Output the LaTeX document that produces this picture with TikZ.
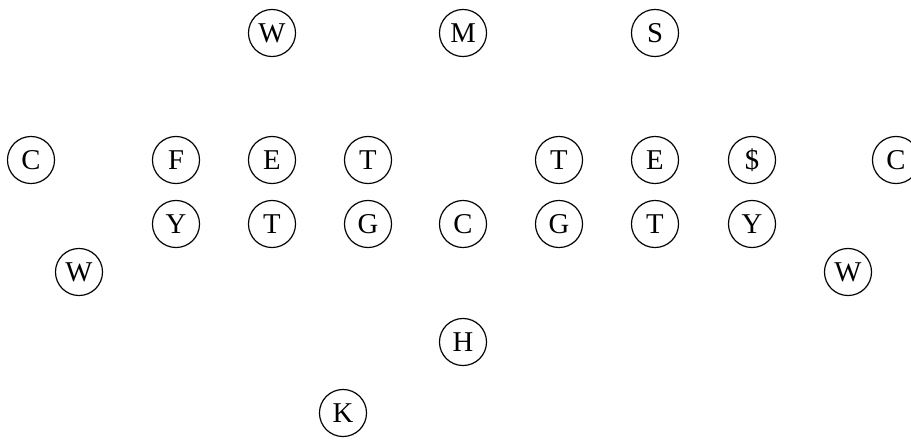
\documentclass[tikz,border=0pt]{standalone}
\usepackage{fontspec}
\setmainfont{Liberation Serif}
\usepackage{tikz}

\begin{document}
\begin{tikzpicture}[x=0.02083cm, y=-0.02083cm]
\tikzset{player/.style={draw, circle, line width=0.7pt, minimum size=0.98cm, inner sep=0pt, font=\fontsize{17}{17}\selectfont}}
\useasboundingbox (0,0) rectangle (911,441);
% top row
\node[player] (wtop) at (272,33) {W};
\node[player] (mtop) at (463,33) {M};
\node[player] (stop) at (655,33) {S};
% line
\node[player] (cleft) at (31,160) {C};
\node[player] (fleft) at (176,160) {F};
\node[player] (eleft) at (272,160) {E};
\node[player] (tleft) at (368,160) {T};
\node[player] (tright) at (559,160) {T};
\node[player] (eright) at (655,160) {E};
\node[player] (dright) at (752,160) {\$};
\node[player] (cright) at (896,160) {C};
% second line
\node[player] (yleft) at (176,224) {Y};
\node[player] (tgleft) at (272,224) {T};
\node[player] (gleft) at (368,224) {G};
\node[player] (center) at (463,224) {C};
\node[player] (gright) at (559,224) {G};
\node[player] (tgright) at (655,224) {T};
\node[player] (yright) at (752,224) {Y};
% wings and backs
\node[player] (wleft) at (79,272) {W};
\node[player] (wright) at (848,272) {W};
\node[player] (hback) at (463,342) {H};
\node[player] (kback) at (343,413) {K};
\end{tikzpicture}
\end{document}
